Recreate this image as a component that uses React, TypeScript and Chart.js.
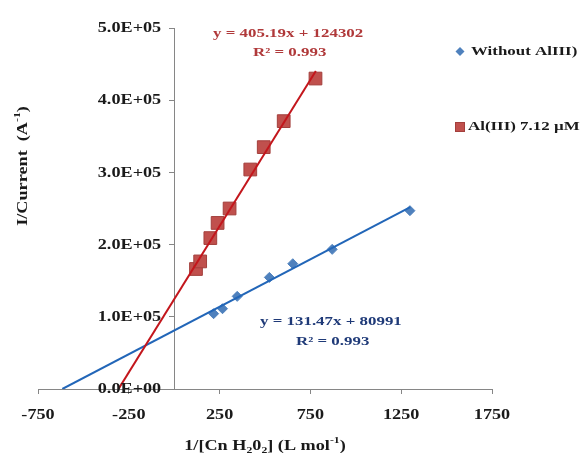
import React, { useEffect, useRef } from "react";
import { Chart, registerables } from "chart.js";

Chart.register(...registerables);

// ---- data ----
const withoutX = [217, 266, 347, 524, 653, 870, 1298];
const withoutY = [104300, 111200, 128300, 154600, 173500, 193400, 247000];
const alX = [120, 143, 199, 239, 305, 419, 493, 603, 778];
const alY = [166200, 176700, 209000, 230000, 250000, 304000, 335000, 371000, 430000];

const blueSlope = 131.47;
const blueIntercept = 80991;
const blueFitX = [-616, 1300];
const redSlope = 405.19;
const redIntercept = 124302;
const redFitX = [-307, 780];

const xTicks = [-750, -250, 250, 750, 1250, 1750];
const yTicks = [0, 100000, 200000, 300000, 400000, 500000];

const seriesNames = ["Without AlIII)", "Al(III) 7.12 \u00b5M"];
const blueEq = "y = 131.47x + 80991";
const redEq = "y = 405.19x + 124302";
const r2Text = "R\u00b2 = 0.993";

const FONT = '"Liberation Serif", "Times New Roman", serif';
const SX = 1.3;

type Seg = { t: string; v?: "sub" | "sup" };

function drawRich(
  ctx: CanvasRenderingContext2D,
  segs: Seg[],
  x: number,
  y: number,
  size: number,
  color: string,
  align: "left" | "center" | "right",
  rotate = false
) {
  ctx.save();
  ctx.translate(x, y);
  if (rotate) ctx.rotate(-Math.PI / 2);
  ctx.scale(SX, 1);
  ctx.fillStyle = color;
  ctx.textBaseline = "middle";
  ctx.textAlign = "left";
  const fontFor = (s: Seg) => `bold ${s.v ? Math.round(size * 0.65) : size}px ${FONT}`;
  let total = 0;
  const widths = segs.map((s) => {
    ctx.font = fontFor(s);
    const w = ctx.measureText(s.t).width;
    total += w;
    return w;
  });
  let cx = align === "left" ? 0 : align === "center" ? -total / 2 : -total;
  segs.forEach((s, i) => {
    ctx.font = fontFor(s);
    const dy = s.v === "sub" ? size * 0.3 : s.v === "sup" ? -size * 0.35 : 0;
    ctx.fillText(s.t, cx, dy);
    cx += widths[i];
  });
  ctx.restore();
}

const fmtSci = (v: number) => {
  if (v === 0) return "0.0E+00";
  const e = Math.floor(Math.log10(v));
  const m = v / Math.pow(10, e);
  return `${m.toFixed(1)}E+${String(e).padStart(2, "0")}`;
};

const textPlugin = {
  id: "customText",
  afterDraw(chart: any) {
    const ctx: CanvasRenderingContext2D = chart.ctx;
    const xs = chart.scales.x;
    const ys = chart.scales.y;
    const area = chart.chartArea;
    const axisX = xs.getPixelForValue(0);

    // y tick labels
    yTicks.forEach((v) => {
      drawRich(ctx, [{ t: fmtSci(v) }], axisX - 13, ys.getPixelForValue(v) + 0.5, 14, "#1a1a1a", "right");
    });
    // x tick labels
    xTicks.forEach((v) => {
      drawRich(ctx, [{ t: String(v) }], xs.getPixelForValue(v), area.bottom + 26, 14, "#1a1a1a", "center");
    });

    // axis titles
    drawRich(
      ctx,
      [{ t: "I/Current  (A" }, { t: "-1", v: "sup" }, { t: ")" }],
      23,
      166,
      14,
      "#1a1a1a",
      "center",
      true
    );
    drawRich(
      ctx,
      [
        { t: "1/[Cn H" },
        { t: "2", v: "sub" },
        { t: "0" },
        { t: "2", v: "sub" },
        { t: "] (L mol" },
        { t: "-1", v: "sup" },
        { t: ")" },
      ],
      (area.left + area.right) / 2,
      446,
      14,
      "#1a1a1a",
      "center"
    );

    // trendline equations
    drawRich(ctx, [{ t: redEq }], 213, 34, 13, "#B0393A", "left");
    drawRich(ctx, [{ t: r2Text }], 253, 53, 13, "#B0393A", "left");
    drawRich(ctx, [{ t: blueEq }], 260, 322, 13, "#1F3A78", "left");
    drawRich(ctx, [{ t: r2Text }], 296, 342, 13, "#1F3A78", "left");

    // legend
    ctx.save();
    ctx.fillStyle = "#4F81BD";
    ctx.beginPath();
    ctx.moveTo(460, 47);
    ctx.lineTo(464.5, 51.5);
    ctx.lineTo(460, 56);
    ctx.lineTo(455.5, 51.5);
    ctx.closePath();
    ctx.fill();
    ctx.fillStyle = "#C0504D";
    ctx.strokeStyle = "#A33F3C";
    ctx.lineWidth = 1;
    ctx.fillRect(455, 122, 10, 10);
    ctx.strokeRect(455.5, 122.5, 9, 9);
    ctx.restore();
    drawRich(ctx, [{ t: seriesNames[0] }], 471, 52, 13, "#1a1a1a", "left");
    drawRich(ctx, [{ t: seriesNames[1] }], 468, 127, 13, "#1a1a1a", "left");
  },
};

export default function App() {
  const ref = useRef<HTMLCanvasElement | null>(null);

  useEffect(() => {
    if (!ref.current) return;
    const blueFit = blueFitX.map((x) => ({ x, y: blueSlope * x + blueIntercept }));
    const redFit = redFitX.map((x) => ({ x, y: redSlope * x + redIntercept }));
    const chart = new Chart(ref.current, {
      type: "scatter",
      data: {
        datasets: [
          {
            label: "redFit",
            data: redFit,
            showLine: true,
            borderColor: "#C3161C",
            borderWidth: 2,
            pointRadius: 0,
          },
          {
            label: "blueFit",
            data: blueFit,
            showLine: true,
            borderColor: "#2266B8",
            borderWidth: 2,
            pointRadius: 0,
          },
          {
            label: seriesNames[0],
            data: withoutX.map((x, i) => ({ x, y: withoutY[i] })),
            pointStyle: "rectRot",
            pointRadius: 5,
            backgroundColor: "#4F81BD",
            borderColor: "#4F81BD",
            borderWidth: 1,
          },
          {
            label: seriesNames[1],
            data: alX.map((x, i) => ({ x, y: alY[i] })),
            pointStyle: "rect",
            pointRadius: 9,
            backgroundColor: "#C0504D",
            borderColor: "#A33F3C",
            borderWidth: 1,
          },
        ],
      },
      options: {
        responsive: false,
        animation: false,
        layout: { padding: { left: 38, top: 28, right: 90, bottom: 59 } },
        plugins: {
          legend: { display: false },
          tooltip: { enabled: false },
          title: { display: false },
        },
        scales: {
          x: {
            type: "linear",
            min: -750,
            max: 1750,
            ticks: { stepSize: 500, display: false },
            grid: { drawOnChartArea: false, drawTicks: true, tickLength: 5, color: "#868686" },
            border: { color: "#868686", width: 1 },
          },
          y: {
            type: "linear",
            position: { x: 0 } as any,
            min: 0,
            max: 500000,
            ticks: { stepSize: 100000, display: false },
            grid: { drawOnChartArea: false, drawTicks: true, tickLength: 5, color: "#868686" },
            border: { color: "#868686", width: 1 },
          },
        },
      },
      plugins: [textPlugin],
    });
    return () => chart.destroy();
  }, []);

  return (
    <div style={{ position: "absolute", left: 0, top: 0, width: 582, height: 453, background: "#fff" }}>
      <canvas ref={ref} width={582} height={453} style={{ display: "block" }} />
    </div>
  );
}
